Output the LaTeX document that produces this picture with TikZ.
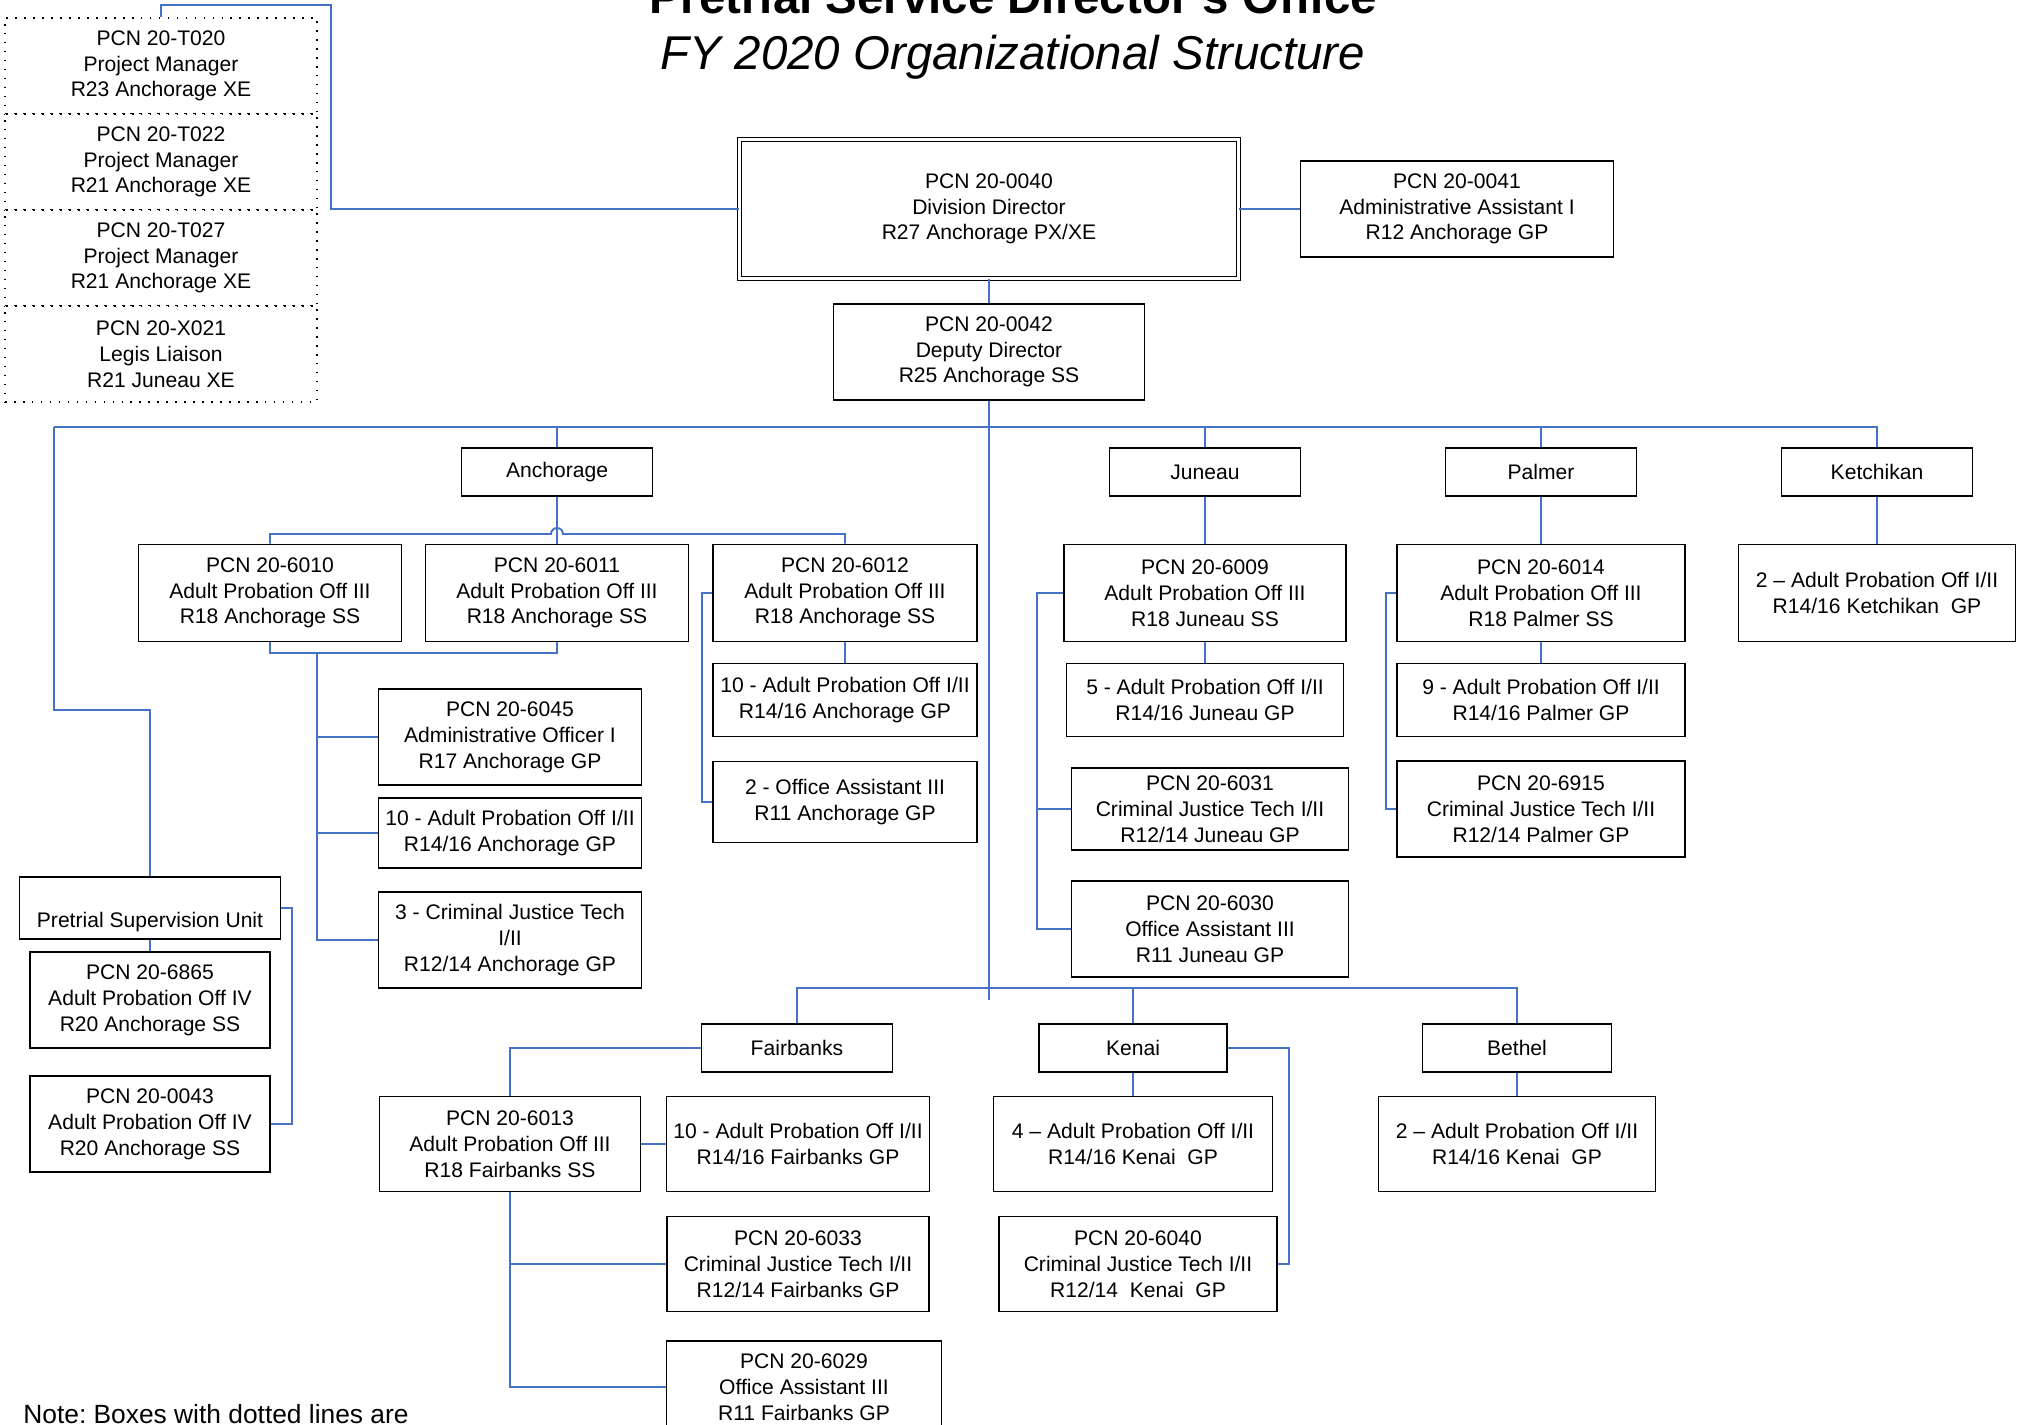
\documentclass[tikz,border=0pt]{standalone}
\usepackage{fontspec}
\setmainfont{Liberation Sans}
\usepackage{tikz}
\usetikzlibrary{positioning}
\definecolor{orgblue}{RGB}{68,114,196}
\frenchspacing

\begin{document}
\begin{tikzpicture}[x=0.02cm, y=-0.02cm]

        % Define styles
        \tikzstyle{post} = [rectangle, draw, line width=0.9pt, fill=white, align=center, inner sep=0pt, font=\fontsize{12}{14.7}\selectfont]
        \tikzstyle{pcn} = [post, minimum width=5.26cm, minimum height=1.92cm]
        \tikzstyle{site} = [post, minimum width=3.82cm, minimum height=0.96cm]
        \tikzstyle{temp} = [post, draw=black, dash pattern=on 0.9pt off 4.2pt, minimum width=6.24cm, minimum height=1.92cm]
        \tikzstyle{line} = [draw, orgblue, line width=1.1pt]

        \useasboundingbox (0,0) rectangle (2023,1425);

        % Titles
        \node [anchor=base, font=\fontsize{27}{31}\selectfont\bfseries] (title) at (1013,14) {Pretrial Service Director's Office};
        \node [anchor=base, font=\fontsize{27}{31}\selectfont\itshape] (subtitle) at (1013,70) {FY 2020 Organizational Structure};
        \node [anchor=base west, inner sep=0pt, font=\fontsize{15}{18}\selectfont] (note) at (23,1423) {Note: Boxes with dotted lines are};

        % Place nodes
        \node [temp] (t020) at (161,66) {PCN 20-T020\\Project Manager\\R23 Anchorage XE};
        \node [temp] (t022) at (161,162) {PCN 20-T022\\Project Manager\\R21 Anchorage XE};
        \node [temp] (t027) at (161,258) {PCN 20-T027\\Project Manager\\R21 Anchorage XE};
        \node [temp] (x021) at (161,354) {PCN 20-X021\\Legis Liaison\\R21 Juneau XE};

        \node [post, double, line width=0.7pt, double distance=1.6pt, minimum width=9.98cm, minimum height=2.78cm] (director) at (989,209) {PCN 20-0040\\Division Director\\R27 Anchorage PX/XE};
        \node [pcn, minimum width=6.26cm] (admin) at (1457,209) {PCN 20-0041\\Administrative Assistant I\\R12 Anchorage GP};
        \node [pcn, minimum width=6.22cm] (deputy) at (989,352) {PCN 20-0042\\Deputy Director\\R25 Anchorage SS};

        % Offices
        \node [site] (anch) at (557,472) {Anchorage};
        \node [site] (jun) at (1205,472) {Juneau};
        \node [site] (pal) at (1541,472) {Palmer};
        \node [site] (ket) at (1877,472) {Ketchikan};
        \node [site] (fbk) at (797,1048) {Fairbanks};
        \node [site, minimum width=3.76cm] (ken) at (1133,1048) {Kenai};
        \node [site, minimum width=3.78cm] (bet) at (1517,1048) {Bethel};

        % Anchorage
        \node [pcn, minimum height=1.94cm] (p6010) at (270,593) {PCN 20-6010\\Adult Probation Off III\\R18 Anchorage SS};
        \node [pcn, minimum height=1.94cm] (p6011) at (557,593) {PCN 20-6011\\Adult Probation Off III\\R18 Anchorage SS};
        \node [pcn, minimum width=5.28cm, minimum height=1.94cm] (p6012) at (845,593) {PCN 20-6012\\Adult Probation Off III\\R18 Anchorage SS};
        \node [pcn] (p6045) at (510,737) {PCN 20-6045\\Administrative Officer I\\R17 Anchorage GP};
        \node [pcn, minimum height=1.40cm] (anchapo) at (510,833) {10 - Adult Probation Off I/II\\R14/16 Anchorage GP};
        \node [pcn] (anchcjt) at (510,940) {3 - Criminal Justice Tech\\I/II\\R12/14 Anchorage GP};
        \node [pcn, minimum width=5.28cm, minimum height=1.46cm] (anchapo2) at (845,700) {10 - Adult Probation Off I/II\\R14/16 Anchorage GP};
        \node [pcn, minimum width=5.28cm, minimum height=1.62cm] (anchoa) at (845,802) {2 - Office Assistant III\\R11 Anchorage GP};

        % Juneau
        \node [pcn, minimum width=5.64cm, minimum height=1.94cm] (p6009) at (1205,593) {PCN 20-6009\\Adult Probation Off III\\R18 Juneau SS};
        \node [pcn, minimum width=5.54cm, minimum height=1.46cm] (junapo) at (1205,700) {5 - Adult Probation Off I/II\\R14/16 Juneau GP};
        \node [pcn, minimum width=5.54cm, minimum height=1.64cm] (p6031) at (1210,809) {PCN 20-6031\\Criminal Justice Tech I/II\\R12/14 Juneau GP};
        \node [pcn, minimum width=5.54cm] (p6030) at (1210,929) {PCN 20-6030\\Office Assistant III\\R11 Juneau GP};

        % Palmer
        \node [pcn, minimum width=5.76cm, minimum height=1.94cm] (p6014) at (1541,593) {PCN 20-6014\\Adult Probation Off III\\R18 Palmer SS};
        \node [pcn, minimum width=5.76cm, minimum height=1.46cm] (palapo) at (1541,700) {9 - Adult Probation Off I/II\\R14/16 Palmer GP};
        \node [pcn, minimum width=5.76cm] (p6915) at (1541,809) {PCN 20-6915\\Criminal Justice Tech I/II\\R12/14 Palmer GP};

        % Ketchikan
        \node [pcn, minimum width=5.54cm, minimum height=1.94cm] (ketapo) at (1877,593) {2 -- Adult Probation Off I/II\\R14/16 Ketchikan~ GP};

        % Pretrial Supervision Unit
        \node [pcn, minimum width=5.22cm, minimum height=1.24cm] (psu) at (150,908) {\strut\\Pretrial Supervision Unit};
        \node [pcn, minimum width=4.80cm] (p6865) at (150,1000) {PCN 20-6865\\Adult Probation Off IV\\R20 Anchorage SS};
        \node [pcn, minimum width=4.80cm] (p0043) at (150,1124) {PCN 20-0043\\Adult Probation Off IV\\R20 Anchorage SS};

        % Fairbanks
        \node [pcn, minimum width=5.22cm, minimum height=1.90cm] (p6013) at (510,1144) {PCN 20-6013\\Adult Probation Off III\\R18 Fairbanks SS};
        \node [pcn, minimum height=1.90cm] (fbkapo) at (798,1144) {10 - Adult Probation Off I/II\\R14/16 Fairbanks GP};
        \node [pcn, minimum width=5.24cm, minimum height=1.90cm] (p6033) at (798,1264) {PCN 20-6033\\Criminal Justice Tech I/II\\R12/14 Fairbanks GP};
        \node [pcn, minimum width=5.50cm, minimum height=1.84cm] (p6029) at (804,1387) {PCN 20-6029\\Office Assistant III\\R11 Fairbanks GP};

        % Kenai and Bethel
        \node [pcn, minimum width=5.58cm, minimum height=1.90cm] (kenapo) at (1133,1144) {4 -- Adult Probation Off I/II\\R14/16 Kenai~ GP};
        \node [pcn, minimum width=5.56cm, minimum height=1.90cm] (p6040) at (1138,1264) {PCN 20-6040\\Criminal Justice Tech I/II\\R12/14~ Kenai~ GP};
        \node [pcn, minimum width=5.54cm, minimum height=1.90cm] (betapo) at (1517,1144) {2 -- Adult Probation Off I/II\\R14/16 Kenai~ GP};

        % Turning points
        \coordinate (tempturn) at (331,5);
        \coordinate (trunk) at (989,1000);
        \coordinate (barleft) at (54,427);
        \coordinate (barright) at (1877,427);
        \coordinate (psuturn) at (54,710);
        \coordinate (psurail) at (292,908);
        \coordinate (hop) at (551,534);
        \coordinate (anchlow) at (270,653);
        \coordinate (anchfork) at (317,653);
        \coordinate (rail6012) at (702,593);
        \coordinate (junrail) at (1037,593);
        \coordinate (palrail) at (1386,593);
        \coordinate (lowbar) at (1133,988);
        \coordinate (kenrail) at (1289,1048);

        % Draw edges
        \begin{scope}[on background layer/.try]
        \path [line] (t020.north) |- (tempturn) |- (director.west);
        \path [line] (director.east) -- (admin.west);
        \path [line] (director.south) -- (deputy.north);
        \path [line] (deputy.south) -- (trunk);
        \path [line] (barleft) -- (barright) -- (ket.north);
        \path [line] (anch.north) -- (anch.north |- barleft);
        \path [line] (jun.north) -- (jun.north |- barleft);
        \path [line] (pal.north) -- (pal.north |- barleft);
        \path [line] (barleft) -- (psuturn) -| (psu.north);
        \path [line] (psu.south) -- (p6865.north);
        \path [line] (psu.east) -- (psurail) |- (p0043.east);

        % Anchorage connections
        \path [line] (anch.south) -- (p6011.north);
        \path [line] (p6010.north) |- (hop) arc (180:360:6) -| (p6012.north);
        \path [line] (p6010.south) -- (anchlow) -| (p6011.south);
        \path [line] (anchfork) |- (p6045.west);
        \path [line] (anchfork) |- (anchapo.west);
        \path [line] (anchfork) |- (anchcjt.west);
        \path [line] (p6012.south) -- (anchapo2.north);
        \path [line] (p6012.west) -- (rail6012) |- (anchoa.west);

        % Juneau, Palmer, Ketchikan connections
        \path [line] (jun.south) -- (p6009.north);
        \path [line] (p6009.south) -- (junapo.north);
        \path [line] (p6009.west) -- (junrail) |- (p6031.west);
        \path [line] (junrail) |- (p6030.west);
        \path [line] (pal.south) -- (p6014.north);
        \path [line] (p6014.south) -- (palapo.north);
        \path [line] (p6014.west) -- (palrail) |- (p6915.west);
        \path [line] (ket.south) -- (ketapo.north);

        % Lower offices
        \path [line] (fbk.north) |- (lowbar) -| (bet.north);
        \path [line] (ken.north) -- (lowbar);
        \path [line] (fbk.west) -| (p6013.north);
        \path [line] (p6013.east) -- (fbkapo.west);
        \path [line] (p6013.south) |- (p6033.west);
        \path [line] (p6013.south) |- (p6029.west);
        \path [line] (ken.south) -- (kenapo.north);
        \path [line] (ken.east) -- (kenrail) |- (p6040.east);
        \path [line] (bet.south) -- (betapo.north);
        \end{scope}

    \end{tikzpicture}
\end{document}
